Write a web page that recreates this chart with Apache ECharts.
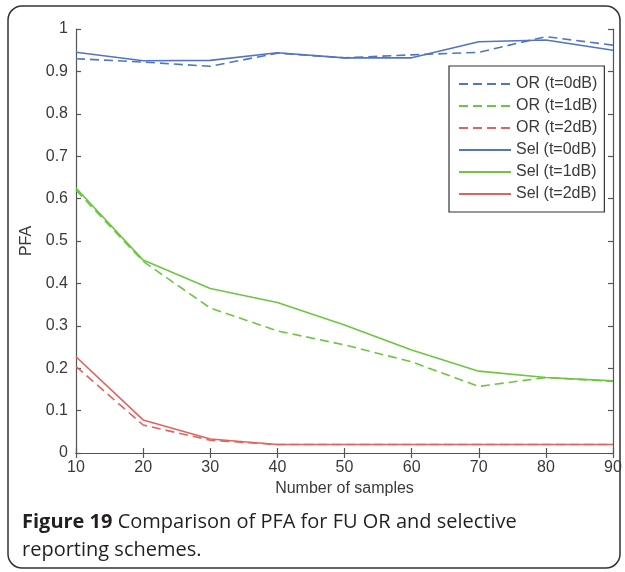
<!DOCTYPE html>
<html>
<head>
<meta charset="utf-8">
<title>PFA comparison</title>
<script src="https://cdn.jsdelivr.net/npm/echarts@6/dist/echarts.min.js"></script>
<style>
  html, body { margin: 0; padding: 0; background: #fff; }
  #chart { width: 625px; height: 572px; }
</style>
</head>
<body>
<div id="chart"></div>
<script>
// Number of samples on the horizontal axis
const samples = [10, 20, 30, 40, 50, 60, 70, 80, 90];

// Probability of false alarm, FU OR scheme
const or0 = [0.930, 0.922, 0.912, 0.943, 0.932, 0.939, 0.945, 0.982, 0.962];
const or1 = [0.620, 0.452, 0.342, 0.288, 0.255, 0.215, 0.157, 0.178, 0.169];
const or2 = [0.204, 0.066, 0.030, 0.020, 0.020, 0.020, 0.020, 0.020, 0.020];

// Probability of false alarm, selective reporting scheme
const sel0 = [0.945, 0.925, 0.926, 0.944, 0.932, 0.932, 0.970, 0.974, 0.950];
const sel1 = [0.625, 0.455, 0.388, 0.355, 0.302, 0.243, 0.193, 0.178, 0.170];
const sel2 = [0.227, 0.078, 0.033, 0.020, 0.020, 0.020, 0.020, 0.020, 0.020];

const yTicks = [0, 0.1, 0.2, 0.3, 0.4, 0.5, 0.6, 0.7, 0.8, 0.9, 1];

const BLUE = '#5274c6';
const GREEN = '#6cc640';
const RED = '#e2625c';
const AXIS = '#555555';
const TEXT = '#3a3a3a';
const FONT = '"Liberation Sans", Arial, sans-serif';

const pairs = (ys) => samples.map((x, i) => [x, ys[i]]);

function lineSeries(name, ys, color, dashed) {
  return {
    name: name,
    type: 'line',
    data: pairs(ys),
    showSymbol: false,
    symbol: 'none',
    smooth: false,
    silent: true,
    lineStyle: { color: color, width: 1.6, type: dashed ? [9, 5] : 'solid' },
    itemStyle: { color: color }
  };
}

const frameAxis = {
  axisLine: { show: true, lineStyle: { color: AXIS, width: 1.2 } },
  axisTick: { show: true, inside: true, length: 5, lineStyle: { color: AXIS, width: 1.2 } },
  splitLine: { show: false }
};

const chart = echarts.init(document.getElementById('chart'), null, { renderer: 'canvas' });

chart.setOption({
  animation: false,
  backgroundColor: '#ffffff',
  textStyle: { fontFamily: FONT },
  grid: { left: 76, right: 12, top: 29, bottom: 119, containLabel: false },
  xAxis: [
    Object.assign({
      type: 'value', min: 10, max: 90, interval: 10, position: 'bottom',
      name: 'Number of samples', nameLocation: 'middle', nameGap: 27,
      nameTextStyle: { color: TEXT, fontSize: 16, fontFamily: FONT },
      axisLabel: { color: TEXT, fontSize: 16, margin: 7, fontFamily: FONT }
    }, frameAxis),
    Object.assign({
      type: 'value', min: 10, max: 90, interval: 10, position: 'top',
      axisLabel: { show: false }
    }, frameAxis)
  ],
  yAxis: [
    Object.assign({
      type: 'value', min: yTicks[0], max: yTicks[yTicks.length - 1], interval: 0.1, position: 'left',
      name: 'PFA', nameLocation: 'middle', nameGap: 36, nameRotate: 90,
      nameTextStyle: { color: TEXT, fontSize: 16, fontFamily: FONT },
      axisLabel: { color: TEXT, fontSize: 16, margin: 8, fontFamily: FONT }
    }, frameAxis),
    Object.assign({
      type: 'value', min: yTicks[0], max: yTicks[yTicks.length - 1], interval: 0.1, position: 'right',
      axisLabel: { show: false }
    }, frameAxis)
  ],
  legend: {
    orient: 'vertical',
    left: 449,
    top: 66,
    backgroundColor: '#ffffff',
    borderColor: '#333333',
    borderWidth: 1.2,
    padding: [10, 7, 10, 9],
    itemWidth: 52,
    itemHeight: 16,
    itemGap: 6,
    selectedMode: false,
    // plain line samples, no marker in the middle
    itemStyle: { color: 'rgba(0,0,0,0)', borderWidth: 0, opacity: 0 },
    textStyle: { color: TEXT, fontSize: 16, fontFamily: FONT, lineHeight: 16 },
    data: ['OR (t=0dB)', 'OR (t=1dB)', 'OR (t=2dB)', 'Sel (t=0dB)', 'Sel (t=1dB)', 'Sel (t=2dB)']
  },
  series: [
    lineSeries('OR (t=0dB)', or0, BLUE, true),
    lineSeries('OR (t=1dB)', or1, GREEN, true),
    lineSeries('OR (t=2dB)', or2, RED, true),
    lineSeries('Sel (t=0dB)', sel0, BLUE, false),
    lineSeries('Sel (t=1dB)', sel1, GREEN, false),
    lineSeries('Sel (t=2dB)', sel2, RED, false)
  ],
  graphic: [
    {
      type: 'rect',
      shape: { x: 8, y: 6, width: 612, height: 562, r: 14 },
      style: { fill: 'none', stroke: '#333333', lineWidth: 1.5 },
      silent: true,
      z: -1
    },
    {
      type: 'text',
      left: 22,
      top: 508,
      silent: true,
      style: {
        text: '{b|Figure 19} Comparison of PFA for FU OR and selective\nreporting schemes.',
        fill: '#231f20',
        font: '20px "Open Sans", sans-serif',
        lineHeight: 28,
        rich: {
          b: { fontWeight: 'bold', fontSize: 20, fontFamily: '"Open Sans", sans-serif', fill: '#231f20', lineHeight: 28 }
        }
      }
    }
  ]
});
</script>
</body>
</html>
